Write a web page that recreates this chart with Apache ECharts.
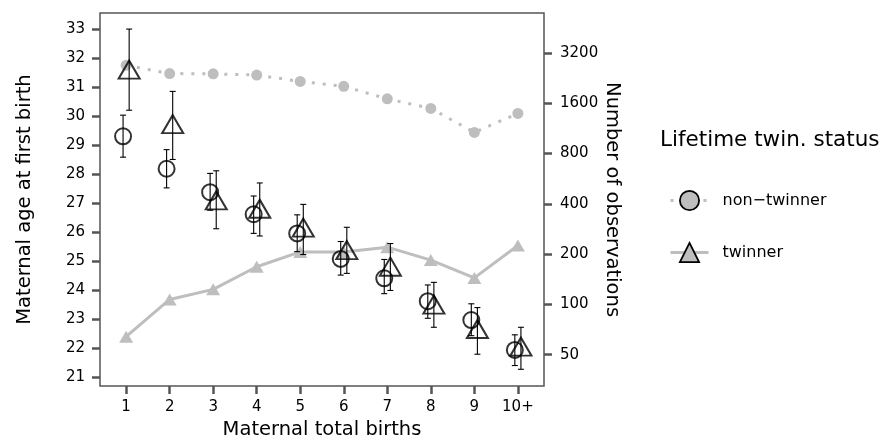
<!DOCTYPE html>
<html>
<head>
<meta charset="utf-8">
<script src="https://cdn.jsdelivr.net/npm/echarts@6/dist/echarts.min.js"></script>
<style>
  html, body { margin: 0; padding: 0; background: #fff; }
  #chart { width: 889px; height: 445px; }
</style>
</head>
<body>
<div id="chart"></div>
<script>
// categories and tick labels
var births = ['1', '2', '3', '4', '5', '6', '7', '8', '9', '10+'];
var ageTicks = [21, 22, 23, 24, 25, 26, 27, 28, 29, 30, 31, 32, 33];
var obsTicks = [50, 100, 200, 400, 800, 1600, 3200];

// maternal age at first birth, mean and error bar ends
var nonTwinMean = [29.30, 28.18, 27.37, 26.61, 25.95, 25.07, 24.40, 23.61, 22.96, 21.93];
var nonTwinLow  = [28.58, 27.52, 26.75, 25.95, 25.32, 24.51, 23.87, 23.02, 22.42, 21.39];
var nonTwinHigh = [30.03, 28.84, 28.02, 27.24, 26.59, 25.67, 25.05, 24.17, 23.52, 22.45];
var twinMean = [31.60, 29.72, 27.09, 26.80, 26.15, 25.37, 24.80, 23.49, 22.65, 22.04];
var twinLow  = [30.20, 28.50, 26.11, 25.86, 25.22, 24.57, 23.98, 22.71, 21.78, 21.26];
var twinHigh = [33.00, 30.85, 28.11, 27.69, 26.95, 26.16, 25.60, 24.26, 23.39, 22.71];

// number of observations (right axis, log scale)
var nonTwinObs = [2700, 2410, 2400, 2360, 2160, 2020, 1700, 1490, 1070, 1390];
var twinObs    = [64, 107, 123, 168, 206, 206, 220, 184, 144, 225];

var dodge = 0.07;
var grey = '#bebebe';
var axisGrey = '#555555';
var font = 'DejaVu Sans';

function pts(vals, off) {
  return vals.map(function (v, i) { return [i + 1 + off, v]; });
}
function bars(lo, hi, off) {
  return lo.map(function (v, i) { return [i + 1 + off, v, hi[i]]; });
}

function errorBar(params, api) {
  var x = api.value(0);
  var top = api.coord([x, api.value(2)]);
  var bot = api.coord([x, api.value(1)]);
  var w = 3;
  var st = { stroke: '#000', lineWidth: 1.1 };
  return {
    type: 'group',
    children: [
      { type: 'line', shape: { x1: top[0], y1: top[1], x2: bot[0], y2: bot[1] }, style: st },
      { type: 'line', shape: { x1: top[0] - w, y1: top[1], x2: top[0] + w, y2: top[1] }, style: st },
      { type: 'line', shape: { x1: bot[0] - w, y1: bot[1], x2: bot[0] + w, y2: bot[1] }, style: st }
    ]
  };
}

var option = {
  animation: false,
  textStyle: { fontFamily: font },
  title: {
    text: 'Lifetime twin. status',
    left: 660,
    top: 129,
    padding: 0,
    textStyle: { fontFamily: font, fontSize: 21.5, fontWeight: 'normal', color: '#000' }
  },
  legend: {
    orient: 'vertical',
    left: 664,
    top: 185,
    itemWidth: 38,
    itemHeight: 24,
    itemGap: 31,
    textStyle: { fontFamily: font, fontSize: 16, color: '#000', padding: [0, 0, 0, 9] },
    data: [
      {
        name: 'non−twinner',
        itemStyle: { color: grey, borderColor: '#000', borderWidth: 1.8 },
        lineStyle: { color: grey, width: 3, type: [3, 8] }
      },
      {
        name: 'twinner',
        itemStyle: { color: grey, borderColor: '#000', borderWidth: 1.8 },
        lineStyle: { color: grey, width: 3 }
      }
    ]
  },
  grid: {
    left: 100, right: 345, top: 13, bottom: 49.5,
    show: true, borderColor: axisGrey, borderWidth: 1.5, backgroundColor: '#fff'
  },
  xAxis: {
    type: 'value',
    min: 0.4,
    max: 10.6,
    name: 'Maternal total births',
    nameLocation: 'middle',
    nameGap: 28,
    nameTextStyle: { fontFamily: font, fontSize: 19.5, color: '#000' },
    axisLine: { show: false },
    splitLine: { show: false },
    axisTick: { length: 8, lineStyle: { color: axisGrey, width: 2.5 }, customValues: [1, 2, 3, 4, 5, 6, 7, 8, 9, 10] },
    axisLabel: {
      margin: 14, fontSize: 15, color: '#000',
      customValues: [1, 2, 3, 4, 5, 6, 7, 8, 9, 10],
      formatter: function (v) { return births[Math.round(v) - 1]; }
    }
  },
  yAxis: [
    {
      type: 'value',
      min: 20.68,
      max: 33.555,
      name: 'Maternal age at first birth',
      nameLocation: 'middle',
      nameGap: 65,
      nameTextStyle: { fontFamily: font, fontSize: 19.5, color: '#000' },
      axisLine: { show: false },
      splitLine: { show: false },
      axisTick: { length: 8, lineStyle: { color: axisGrey, width: 2.5 }, customValues: ageTicks },
      axisLabel: { margin: 15, fontSize: 15, color: '#000', customValues: ageTicks }
    },
    {
      type: 'log',
      logBase: 2,
      min: 32.4,
      max: 5552,
      position: 'right',
      name: 'Number of observations',
      nameLocation: 'middle',
      nameGap: 53,
      nameRotate: -90,
      nameTextStyle: { fontFamily: font, fontSize: 19.5, color: '#000' },
      axisLine: { show: false },
      splitLine: { show: false },
      minorTick: { show: false },
      axisTick: { length: 8, lineStyle: { color: axisGrey, width: 2.5 }, customValues: obsTicks },
      axisLabel: {
        margin: 16, fontSize: 15, color: '#000', customValues: obsTicks,
        formatter: function (v) { return String(Math.round(v)); }
      }
    }
  ],
  series: [
    {
      name: 'non−twinner',
      type: 'line',
      yAxisIndex: 1,
      data: pts(nonTwinObs, 0),
      symbol: 'circle',
      symbolSize: 11,
      itemStyle: { color: grey },
      lineStyle: { color: grey, width: 3, type: [3, 8] },
      z: 1
    },
    {
      name: 'twinner',
      type: 'line',
      yAxisIndex: 1,
      data: pts(twinObs, 0),
      symbol: 'triangle',
      symbolSize: [14, 12],
      itemStyle: { color: grey },
      lineStyle: { color: grey, width: 3 },
      z: 1
    },
    {
      type: 'custom',
      renderItem: errorBar,
      data: bars(nonTwinLow, nonTwinHigh, -dodge),
      encode: { x: 0, y: [1, 2] },
      z: 3
    },
    {
      type: 'custom',
      renderItem: errorBar,
      data: bars(twinLow, twinHigh, dodge),
      encode: { x: 0, y: [1, 2] },
      z: 3
    },
    {
      type: 'scatter',
      data: pts(nonTwinMean, -dodge),
      symbol: 'circle',
      symbolSize: 16,
      itemStyle: { color: 'rgba(0,0,0,0)', borderColor: '#000', borderWidth: 2 },
      z: 4
    },
    {
      type: 'scatter',
      data: pts(twinMean, dodge),
      symbol: 'triangle',
      symbolSize: [21, 18],
      itemStyle: { color: 'rgba(0,0,0,0)', borderColor: '#000', borderWidth: 2 },
      z: 4
    }
  ]
};

echarts.init(document.getElementById('chart')).setOption(option);
</script>
</body>
</html>
